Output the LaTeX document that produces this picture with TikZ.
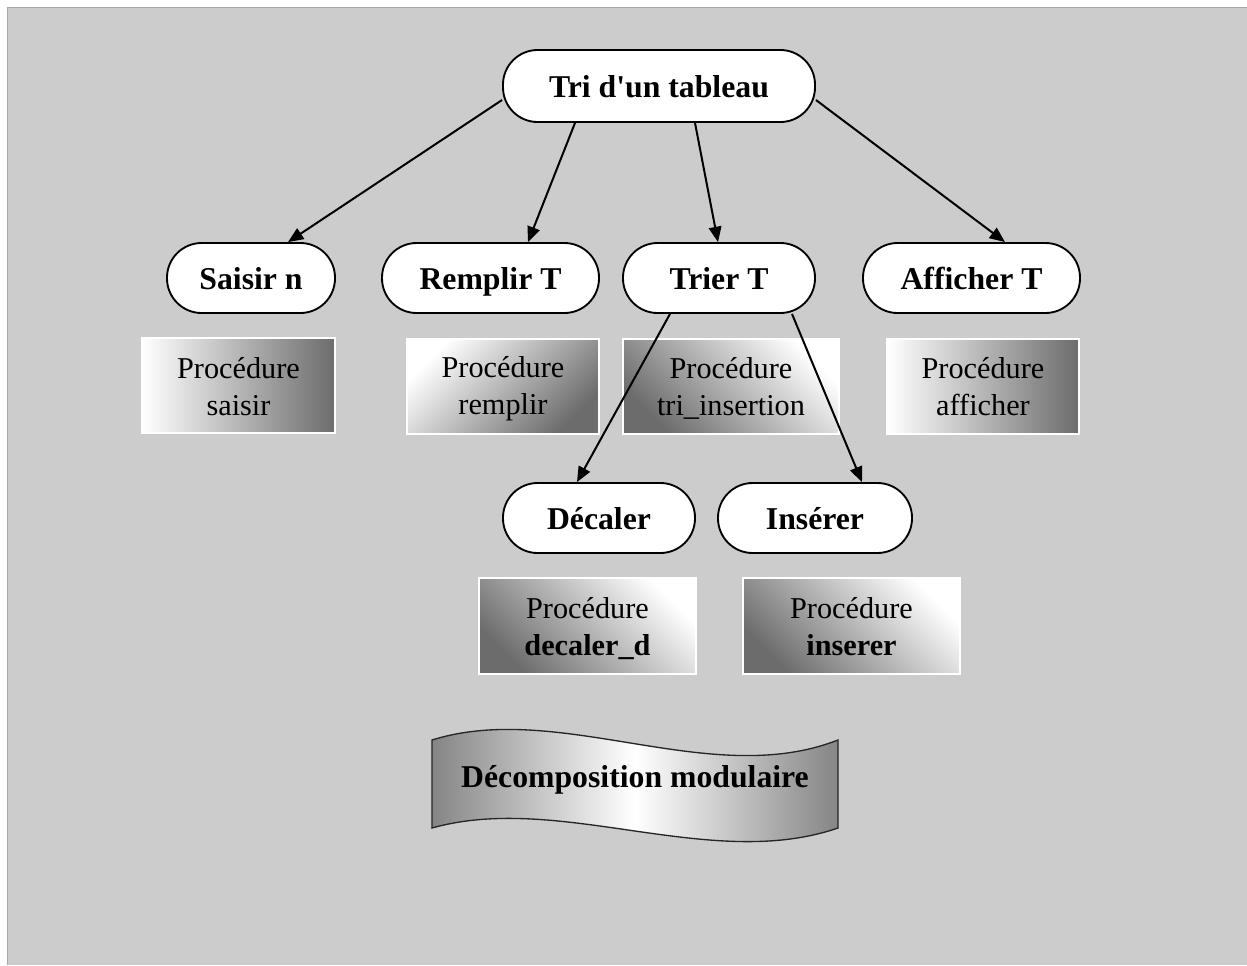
\documentclass[tikz,border=0pt]{standalone}
\usepackage{fontspec}
\setmainfont{Liberation Serif}[Ligatures=TeXOff]
\usetikzlibrary{calc,arrows.meta}
\definecolor{bg}{HTML}{CCCCCC}
\definecolor{bgline}{HTML}{A8A8A8}
\definecolor{dk}{HTML}{6C6C6C}
\definecolor{bandk}{HTML}{858585}
\newcommand\pstr{\rule[-3.45pt]{0pt}{23.45pt}}
\begin{document}
\begin{tikzpicture}[x=0.75pt,y=-0.75pt,
  modnode/.style={draw=black, fill=white, line width=1.4pt, rounded corners=26pt,
    minimum height=52.5pt, inner sep=0pt, text height=20.2pt, text depth=2.4pt,
    font=\fontsize{23.8}{28}\selectfont\bfseries},
  procbox/.style={draw=white, line width=1.5pt, minimum height=71.25pt, inner sep=0pt,
    align=center, font=\fontsize{22.7}{27.75}\selectfont},
  shadeTL/.style={top color=white, bottom color=dk, shading angle=45},
  shadeTR/.style={top color=white, bottom color=dk, shading angle=-45},
  shadeLR/.style={left color=white, right color=dk},
  link/.style={line width=1.5pt, -{Triangle[length=11.5pt,width=9.5pt]}},
  bannertext/.style={font=\fontsize{23.8}{28}\selectfont\bfseries, inner sep=0pt,
    text height=20.2pt, text depth=2.4pt}
]
\useasboundingbox (0,0) rectangle (1247,965);
\fill[white] (0,0) rectangle (1247,965);
\fill[bg] (7,7) rectangle (1247,965);
\draw[bgline, line width=1pt] (7.5,965) -- (7.5,7.5) -- (1247,7.5);

% module nodes
\node[modnode, minimum width=234pt, minimum height=54pt] (tri) at (659,86) {Tri d'un tableau};
\node[modnode, minimum width=126pt] (saisir) at (251,278) {Saisir n};
\node[modnode, minimum width=162.75pt] (remplir) at (490.5,278) {Remplir T};
\node[modnode, minimum width=144pt] (trier) at (719,278) {Trier T};
\node[modnode, minimum width=162.75pt] (afficher) at (971.5,278) {Afficher T};
\node[modnode, minimum width=144pt] (decaler) at (599,518) {Décaler};
\node[modnode, minimum width=145.5pt] (inserer) at (815,518) {Insérer};

% procedure boxes
\node[procbox, shadeLR, minimum width=144.75pt] (psaisir) at (238.5,385.5) {Procédure\pstr\\saisir\pstr};
\node[procbox, shadeTL, minimum width=144pt] (premplir) at (503,386) {Procédure\pstr\\remplir\pstr};
\node[procbox, shadeTR, minimum width=162pt] (ptri) at (731,386) {Procédure\pstr\\tri\_insertion\pstr};
\node[procbox, shadeLR, minimum width=144pt] (pafficher) at (983,386) {Procédure\pstr\\afficher\pstr};
\node[procbox, shadeTR, minimum width=162.75pt, minimum height=72pt] (pdecaler) at (587.5,626) {Procédure\pstr\\\textbf{decaler\_d}\pstr};
\node[procbox, shadeTR, minimum width=162.75pt, minimum height=72pt] (pinserer) at (851.5,626) {Procédure\pstr\\\textbf{inserer}\pstr};

% connectors
\draw[link] ($(tri.west)+(0,14)$) -- ($(saisir.north)+(37,0)$);
\draw[link] ($(tri.south)+(-84,0)$) -- ($(remplir.north)+(37.5,0)$);
\draw[link] ($(tri.south)+(36,0)$) -- ($(trier.north)+(-1,0)$);
\draw[link] ($(tri.east)+(0,14)$) -- ($(afficher.north)+(33.5,0)$);
\draw[link] ($(trier.south)+(-49,0)$) -- ($(decaler.north)+(-22,0)$);
\draw[link] ($(trier.south)+(73,0)$) -- ($(inserer.north)+(47,0)$);

% banner
\shadedraw[left color=bandk, right color=bandk, middle color=white, draw=black!85, line width=1pt]
  (432,740) .. controls (560,700) and (710,790) .. (838,740)
  -- (838,828) .. controls (710,872) and (560,792) .. (432,828) -- cycle;
\node[bannertext] (banner) at (635,776) {Décomposition modulaire};
\end{tikzpicture}
\end{document}
